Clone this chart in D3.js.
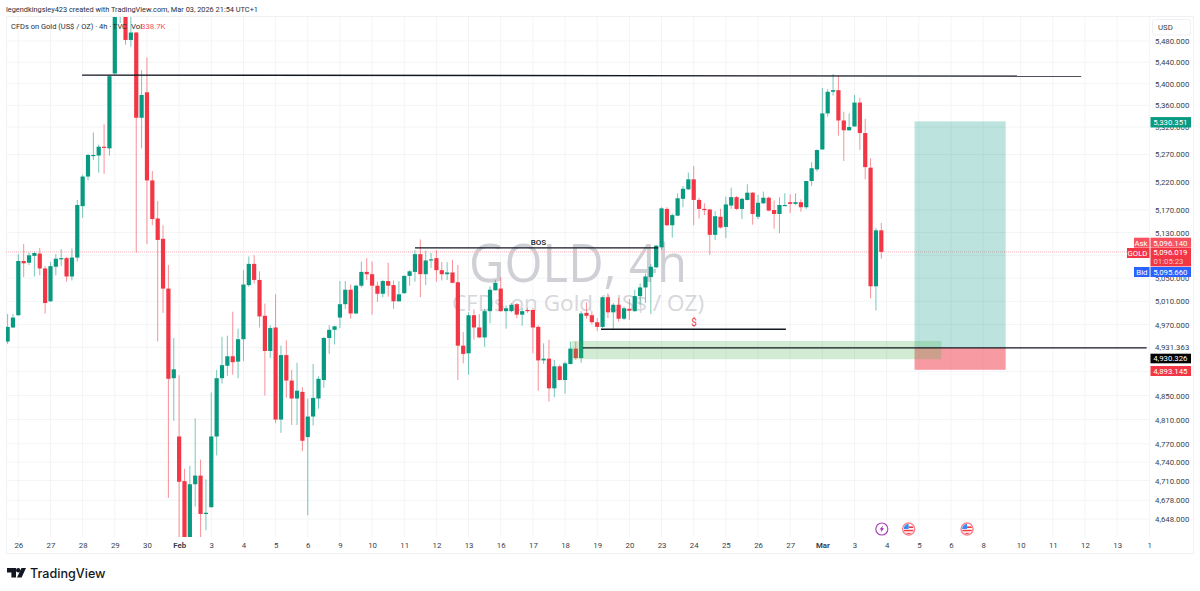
<!DOCTYPE html>
<html>
<head>
<meta charset="utf-8">
<script src="https://cdn.jsdelivr.net/npm/d3@7"></script>
<style>
	html, body { margin: 0; padding: 0; background: #fff; }
	svg { display: block; font-family: Roboto, "Liberation Sans", sans-serif; }
	.axis path, .axis line { display: none; }
	.axis text { fill: #3a3e4a; font-family: Roboto, sans-serif; }
</style>
</head>
<body>
<svg></svg>
<script>
// 4h candles
const opens = [
	4941,4965,4986,5080,5077,5089,5093,5067,5010,5070,
	5084,5085,5053,5086,5177,5230,5267,5268,5284,5281,
	5419,5532,5555,5482,5496,5337,5384,5223,5155,5119,
	5032,4879,4782,4709,4602,4704,4718,4656,4667,4782,
	4879,4900,4916,4907,4945,5038,5075,5047,4985,4925,
	4965,4810,4918,4875,4845,4856,4781,4815,4845,4876,
	4947,4961,4982,5005,5030,4989,5037,5061,5057,5037,
	5023,5045,5038,5010,5024,5054,5061,5092,5057,5081,
	5085,5064,5057,5060,5043,4934,4921,4986,4965,4948,
	4993,5029,5032,4993,4993,5005,4987,4995,4995,4966,
	4909,4912,4862,4899,4876,4903,4929,4913,4990,4986,
	4974,4966,5017,4991,5004,4980,4997,4993,5019,5034,
	5052,5069,5104,5172,5143,5160,5190,5207,5225,5188,
	5172,5171,5126,5158,5140,5178,5193,5172,5188,5201,
	5158,5182,5192,5170,5163,5178,5184,5181,5184,5175,
	5222,5243,5279,5345,5385,5388,5332,5314,5321,5365,
	5309,5246,5036,5134]
const highs = [
	4988,4988,5092,5110,5095,5096,5103,5071,5078,5092,
	5101,5087,5102,5188,5233,5271,5310,5288,5325,5416,
	5540,5575,5570,5535,5497,5425,5449,5240,5186,5143,
	5073,4947,4884,4729,4734,4812,4744,4712,4855,4893,
	4949,4951,4992,4963,5064,5088,5090,5062,5006,4969,
	5022,4934,4943,4893,4905,4864,4845,4903,4882,4949,
	4969,4968,5045,5045,5039,5039,5079,5085,5079,5044,
	5047,5077,5046,5045,5055,5064,5099,5118,5098,5094,
	5099,5078,5078,5082,5073,4957,4991,4996,4988,4997,
	5036,5047,5052,5003,5007,5007,4998,4998,4998,4969,
	4938,4944,4910,4902,4907,4941,4941,4993,5008,4993,
	4981,5018,5024,5007,5016,5001,5014,5030,5041,5058,
	5075,5108,5175,5175,5164,5200,5213,5237,5249,5192,
	5182,5172,5168,5172,5194,5210,5195,5192,5216,5202,
	5197,5203,5194,5187,5193,5200,5198,5200,5189,5222,
	5256,5279,5392,5390,5418,5414,5348,5345,5379,5374,
	5335,5263,5138,5147]
const lows = [
	4937,4964,4985,5052,5073,5053,5055,4989,5009,5055,
	5071,5044,5046,5079,5156,5223,5260,5237,5235,5268,
	5417,5514,5473,5469,5095,5281,5110,5143,4941,4990,
	4682,4808,4605,4590,4590,4668,4610,4630,4666,4751,
	4870,4883,4885,4879,4908,5035,5041,4965,4850,4913,
	4804,4788,4846,4801,4801,4758,4654,4800,4828,4863,
	4920,4936,4964,4997,4980,4988,5034,5047,4987,5009,
	5017,5018,4997,5009,5023,5037,5044,5017,5038,5068,
	5044,5046,5047,5041,4876,4904,4885,4944,4947,4932,
	4972,5029,4992,4963,4991,4981,4968,4990,4921,4858,
	4903,4840,4847,4875,4853,4902,4910,4905,4980,4970,
	4959,4964,4981,4963,4975,4978,4978,4992,5004,5007,
	4988,5068,5100,5141,5121,5159,5175,5206,5143,5155,
	5161,5091,5117,5137,5120,5172,5170,5154,5187,5144,
	5154,5181,5168,5137,5129,5178,5165,5179,5167,5172,
	5213,5239,5279,5339,5378,5304,5258,5313,5321,5278,
	5225,5015,4994,5084]
const closes = [
	4966,4982,5080,5076,5090,5094,5067,5007,5071,5084,
	5085,5053,5086,5179,5230,5269,5269,5284,5282,5414,
	5530,5560,5482,5496,5337,5379,5223,5154,5117,5032,
	4878,4894,4708,4607,4704,4718,4656,4658,4782,4879,
	4901,4916,4906,4945,5039,5075,5047,4984,4925,4964,
	4810,4918,4875,4845,4858,4775,4815,4846,4878,4947,
	4961,4967,5005,5030,4989,5037,5061,5057,5037,5023,
	5045,5037,5010,5022,5054,5062,5092,5057,5081,5083,
	5064,5057,5060,5042,4934,4920,4986,4965,4948,4993,
	5030,5042,4993,4998,5004,4987,4993,4993,4965,4909,
	4912,4862,4899,4876,4904,4929,4913,4989,4985,4974,
	4966,5017,4991,5004,4980,4998,4994,5019,5034,5053,
	5070,5107,5173,5143,5161,5191,5208,5225,5188,5172,
	5171,5126,5159,5139,5180,5193,5172,5190,5201,5163,
	5183,5192,5169,5163,5179,5179,5181,5184,5175,5222,
	5245,5278,5345,5385,5388,5332,5314,5320,5365,5309,
	5247,5036,5134,5096]

// axis ticks
const priceTicks = [5480,5440,5400,5360,5320,5270,5220,5170,5130,5090,5050,5010,4970,4931.363,4890,4850,4810,4770,4740,4710,4678,4648]
const hiddenPriceTicks = [5090,4890] // covered by the price labels
const dayBars = [2,8,14,20,26,32,38,44,50,56,62,68,74,80,86,92,98,104,110,116,122,128,134,140,146,152,158,164,170,176,182,189,195,201,207,213]
const dayLabels = ["26","27","28","29","30","Feb","3","4","5","6","9","10","11","12","13","16","17","18","19","20","23","24","25","26","27","Mar","3","4","5","6","8","10","11","12","13","1"]

// drawings: [bar, price] pairs
const topLine = [[13.9,5416],[200.3,5414]]
const bosLine = [[76,5103],[121.4,5103]]
const sweepLine = [[110.7,4962],[145.2,4962]]
const entryLine = [[107.3,4930.3],[212.5,4930.3]]
const demandZone = {bars: [105.2,174.2], prices: [4942,4911]}
const longBars = [169.2,186.2]
const longPrices = {target: 5330.351, entry: 4930.326, stop: 4893.145}
const lastPrice = 5096.019
const eventBars = [163.1,168.1,179]

const width = 1200, height = 591
const svg = d3.select("svg").attr("width", width).attr("height", height)

const pane = {left: 6, right: 1150, top: 17, bottom: 537}

var x = d3.scaleLinear().domain([0, 163]).range([7.6, 881.3])
var y = d3.scaleLog().domain([4648, 5480]).range([519, 41])

svg.append("rect").attr("x", 6.5).attr("y", 16.5).attr("width", 1187).attr("height", 537)
	.attr("fill", "#fff").attr("stroke", "#f0f1f4")

svg.append("clipPath").attr("id", "pane").append("rect")
	.attr("x", pane.left).attr("y", pane.top)
	.attr("width", pane.right - pane.left).attr("height", pane.bottom - pane.top)

const chart = svg.append("g").attr("clip-path", "url(#pane)")

// grid
chart.append("g").selectAll("line").data(dayBars).enter().append("line")
	.attr("x1", d => x(d)).attr("x2", d => x(d))
	.attr("y1", pane.top).attr("y2", pane.bottom)
	.attr("stroke", "#f3f4f6")
chart.append("g").selectAll("line").data(priceTicks).enter().append("line")
	.attr("x1", pane.left).attr("x2", pane.right)
	.attr("y1", d => y(d)).attr("y2", d => y(d))
	.attr("stroke", "#f3f4f6")

// watermark
chart.append("text").attr("x", 578).attr("y", 282).attr("text-anchor", "middle")
	.attr("font-size", 52.5).attr("fill", "#cfd0d5").attr("font-family", "'Open Sans', sans-serif")
	.attr("textLength", 218).attr("lengthAdjust", "spacingAndGlyphs")
	.text("GOLD, 4h")
chart.append("text").attr("x", 578).attr("y", 311).attr("text-anchor", "middle")
	.attr("font-size", 22.5).attr("fill", "#d6d7db").attr("font-family", "'Open Sans', sans-serif")
	.text("CFDs on Gold (US$ / OZ)")

// last price line
chart.append("line").attr("x1", pane.left).attr("x2", pane.right)
	.attr("y1", y(lastPrice)).attr("y2", y(lastPrice))
	.attr("stroke", "#f8b3b9").attr("stroke-dasharray", "1,1")

// long position box
chart.append("rect").attr("x", x(longBars[0])).attr("width", x(longBars[1]) - x(longBars[0]))
	.attr("y", y(longPrices.target)).attr("height", y(longPrices.entry) - y(longPrices.target))
	.attr("fill", "#089981").attr("fill-opacity", .27)
chart.append("rect").attr("x", x(longBars[0])).attr("width", x(longBars[1]) - x(longBars[0]))
	.attr("y", y(longPrices.entry)).attr("height", y(longPrices.stop) - y(longPrices.entry))
	.attr("fill", "#f23645").attr("fill-opacity", .5)

// candles
const bars = opens.map((o, i) => ({i: i, o: o, h: highs[i], l: lows[i], c: closes[i]}))
const color = d => d.c >= d.o ? "#089981" : "#f23645"

chart.append("g").selectAll("line").data(bars).enter().append("line")
	.attr("x1", d => x(d.i)).attr("x2", d => x(d.i))
	.attr("y1", d => y(d.h)).attr("y2", d => y(d.l))
	.attr("stroke", color).attr("stroke-width", 1).attr("stroke-opacity", .55)

chart.append("g").selectAll("rect").data(bars).enter().append("rect")
	.attr("x", d => x(d.i) - 2.1).attr("width", 4.2)
	.attr("y", d => Math.min(y(d.o), y(d.c)))
	.attr("height", d => Math.max(1.2, Math.abs(y(d.o) - y(d.c))))
	.attr("fill", color)

// zone and lines on top of the candles
chart.append("rect").attr("x", x(demandZone.bars[0])).attr("width", x(demandZone.bars[1]) - x(demandZone.bars[0]))
	.attr("y", y(demandZone.prices[0])).attr("height", y(demandZone.prices[1]) - y(demandZone.prices[0]))
	.attr("fill", "#4caf50").attr("fill-opacity", .25)

const line = d3.line().x(d => x(d[0])).y(d => y(d[1]))
const drawings = [topLine, bosLine, sweepLine, entryLine]
chart.append("g").selectAll("path").data(drawings).enter().append("path")
	.attr("d", line).attr("fill", "none").attr("stroke", "#131722").attr("stroke-width", 1.4)

chart.append("text").attr("x", 538.5).attr("y", 244.5).attr("text-anchor", "middle")
	.attr("font-size", 8).attr("font-weight", 500).attr("fill", "#131722").text("BOS")
chart.append("text").attr("x", 694).attr("y", 325.5).attr("text-anchor", "middle")
	.attr("font-size", 10).attr("fill", "#f23645").text("$")

// event icons
const events = chart.append("g")
events.append("circle").attr("cx", x(eventBars[0])).attr("cy", 529).attr("r", 6)
	.attr("fill", "#fff").attr("stroke", "#ab47bc").attr("stroke-width", 1.2)
events.append("path")
	.attr("transform", "translate(" + x(eventBars[0]) + ",529)")
	.attr("d", "M1.2,-3.4 L-2.2,0.6 L-0.3,0.6 L-1.2,3.4 L2.2,-0.8 L0.3,-0.8 Z")
	.attr("fill", "#9c27b0")
eventBars.slice(1).forEach((b, k) => {
	const g = events.append("g").attr("transform", "translate(" + x(b) + ",529)")
	g.append("clipPath").attr("id", "flag" + k).append("circle").attr("r", 5)
	g.append("circle").attr("r", 6).attr("fill", "#fff").attr("stroke", "#f7838d").attr("stroke-width", 1.4)
	const f = g.append("g").attr("clip-path", "url(#flag" + k + ")")
	f.append("rect").attr("x", -5).attr("y", -5).attr("width", 10).attr("height", 10).attr("fill", "#fff")
	f.append("rect").attr("x", 0).attr("y", -2.6).attr("width", 5).attr("height", 1.6).attr("fill", "#f23645")
	f.append("rect").attr("x", -5).attr("y", 0.8).attr("width", 10).attr("height", 1.5).attr("fill", "#f23645")
	f.append("rect").attr("x", -5).attr("y", 3.8).attr("width", 10).attr("height", 1.5).attr("fill", "#f23645")
	f.append("rect").attr("x", -5).attr("y", -5).attr("width", 5).attr("height", 5).attr("fill", "#3d8bf0")
})

// axes
const yFormat = d3.format(",.3f")
const yAxis = svg.append("g").attr("class", "axis")
	.attr("transform", "translate(1147,0)")
	.call(d3.axisRight(y).tickValues(priceTicks).tickFormat(d => hiddenPriceTicks.includes(d) ? "" : yFormat(d)).tickSize(0).tickPadding(8))
yAxis.selectAll("text").attr("font-size", 7.8)

const xAxis = svg.append("g").attr("class", "axis")
	.attr("transform", "translate(0,537)")
	.call(d3.axisBottom(x).tickValues(dayBars).tickFormat((d, i) => dayLabels[i]).tickSize(0).tickPadding(5))
xAxis.selectAll("text").attr("font-size", 7.8)
	.attr("font-weight", (d, i) => dayLabels[i] == "Feb" || dayLabels[i] == "Mar" ? 700 : 400)

// price scale labels
function priceLabel(yc, h, fill, txt) {
	svg.append("rect").attr("x", 1150.5).attr("y", yc - h / 2).attr("width", 40.5).attr("height", h).attr("fill", fill)
	svg.append("text").attr("x", 1187.5).attr("y", yc + 2.8).attr("text-anchor", "end")
		.attr("font-size", 7.8).attr("fill", "#fff").text(txt)
}
function tagLabel(x0, yc, fill, txt) {
	svg.append("rect").attr("x", x0).attr("y", yc - 5).attr("width", 1149.5 - x0).attr("height", 10).attr("fill", fill)
	svg.append("text").attr("x", 1147.5).attr("y", yc + 2.8).attr("text-anchor", "end")
		.attr("font-size", 7.8).attr("fill", "#fff").text(txt)
}
priceLabel(122.3, 10.4, "#089981", "5,330.351")
priceLabel(242.7, 10, "#f7525f", "5,096.140")
tagLabel(1134, 242.7, "#f7525f", "Ask")
svg.append("rect").attr("x", 1150.5).attr("y", 248).attr("width", 40.5).attr("height", 18.4).attr("fill", "#f23645")
svg.append("text").attr("x", 1187.5).attr("y", 255.4).attr("text-anchor", "end")
	.attr("font-size", 7.8).attr("fill", "#fff").text("5,096.019")
svg.append("text").attr("x", 1183.5).attr("y", 264).attr("text-anchor", "end")
	.attr("font-size", 7.8).attr("fill", "#fcc5ca").text("01:05:23")
tagLabel(1127, 253, "#f23645", "GOLD")
priceLabel(272, 10, "#2962ff", "5,095.660")
tagLabel(1134, 272, "#2962ff", "Bid")
priceLabel(358.5, 9.6, "#000", "4,930.326")
priceLabel(371, 10, "#f23645", "4,893.145")

// currency button
svg.append("rect").attr("x", 1152.5).attr("y", 19.5).attr("width", 38).attr("height", 15.5).attr("rx", 2)
	.attr("fill", "#fff").attr("stroke", "#f0f1f4")
svg.append("text").attr("x", 1158).attr("y", 30).attr("font-size", 7.8).attr("fill", "#3a3e4a").text("USD")

// header and legend
svg.append("text").attr("x", 6).attr("y", 12).attr("font-size", 8).attr("fill", "#2a2e39")
	.attr("textLength", 252).attr("lengthAdjust", "spacingAndGlyphs")
	.text("legendkingsley423 created with TradingView.com, Mar 03, 2026 21:54 UTC+1")
svg.append("text").attr("x", 11).attr("y", 28.5).attr("font-size", 7.8).attr("fill", "#2a2e39")
	.attr("textLength", 116).attr("lengthAdjust", "spacingAndGlyphs")
	.text("CFDs on Gold (US$ / OZ) · 4h · TVC")
svg.append("text").attr("x", 131).attr("y", 28.5).attr("font-size", 7.8).attr("fill", "#2a2e39").text("Vol")
svg.append("text").attr("x", 141).attr("y", 28.5).attr("font-size", 7.8).attr("fill", "#f7525f").text("338.7K")

// logo
const logo = svg.append("g").attr("fill", "#131722")
logo.append("path").attr("d", "M7,568 H16 V577.5 H11.4 V572.5 H7 Z")
logo.append("circle").attr("cx", 18.2).attr("cy", 570.2).attr("r", 2.2)
logo.append("path").attr("d", "M21.5,568 H26 L21.6,577.5 H17 Z")
svg.append("text").attr("x", 30).attr("y", 577.5).attr("font-size", 12.6).attr("font-weight", 500)
	.attr("font-family", "Inter, sans-serif").attr("fill", "#131722").text("TradingView")
</script>
</body>
</html>
